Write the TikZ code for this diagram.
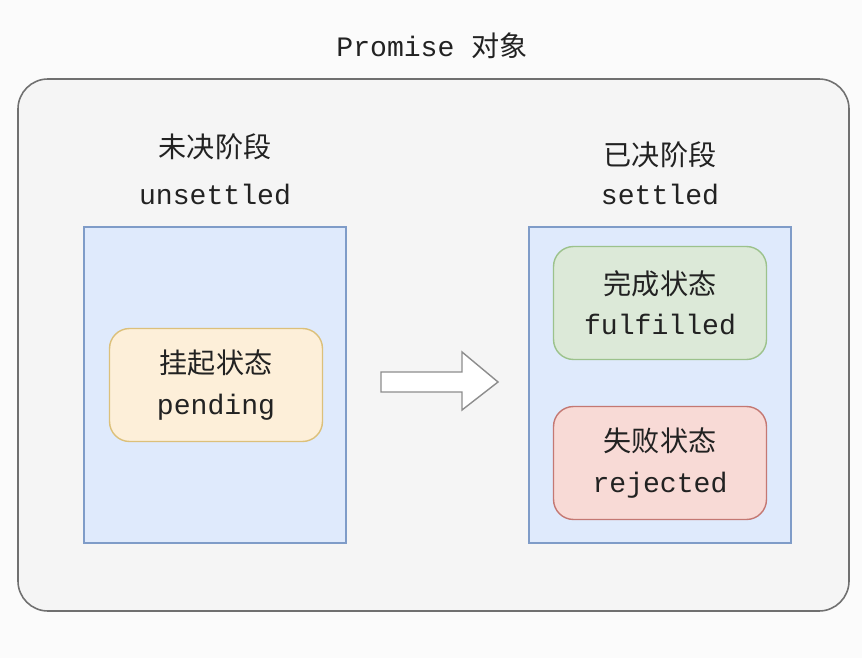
\documentclass[tikz,border=0pt]{standalone}
\usepackage{fontspec}
\setmainfont{Liberation Mono}
\newfontfamily\cjk{Noto Sans CJK SC}
\definecolor{pagebg}{HTML}{FBFBFB}
\definecolor{outerfill}{HTML}{F5F5F5}
\definecolor{outerline}{HTML}{707070}
\definecolor{bluefill}{HTML}{DFEAFC}
\definecolor{blueline}{HTML}{7F9CC8}
\definecolor{orangefill}{HTML}{FDEFD9}
\definecolor{orangeline}{HTML}{DCC07A}
\definecolor{greenfill}{HTML}{DCE9D8}
\definecolor{greenline}{HTML}{9CC28C}
\definecolor{redfill}{HTML}{F8DAD6}
\definecolor{redline}{HTML}{C47873}
\definecolor{ink}{HTML}{222222}
\begin{document}
\begin{tikzpicture}[x=0.02cm,y=-0.02cm,
  label/.style={text=ink,font=\fontsize{16}{19}\selectfont,inner sep=0pt},
  stage/.style={draw=blueline,fill=bluefill,line width=0.8pt,minimum width=5.24cm,minimum height=6.32cm,inner sep=0pt},
  state/.style={rounded corners=0.4cm,line width=0.8pt,minimum width=4.26cm,minimum height=2.26cm,align=center,text=ink,font=\fontsize{16}{23}\selectfont},
  arrowbox/.style={draw=outerline!80,fill=white,line width=0.8pt}]
\useasboundingbox[fill=pagebg] (0,0) rectangle (862,658);
\draw[fill=outerfill,draw=outerline,line width=0.9pt,rounded corners=0.6cm] (18,79) rectangle (849,611);
\node[label] (title) at (432,46) {Promise {\cjk 对象}};
\node[label] (unsetCN) at (215,147) {\cjk 未决阶段};
\node[label] (unsetEN) at (215,194) {unsettled};
\node[label] (setCN) at (660,155) {\cjk 已决阶段};
\node[label] (setEN) at (660,194) {settled};
\node[stage] (unsettled) at (215,385) {};
\node[stage] (settled) at (660,385) {};
\node[state,draw=orangeline,fill=orangefill] (pending) at (216,385) {{\cjk 挂起状态}\\pending};
\node[state,draw=greenline,fill=greenfill] (fulfilled) at (660,303) {{\cjk 完成状态}\\fulfilled};
\node[state,draw=redline,fill=redfill] (rejected) at (660,463) {{\cjk 失败状态}\\rejected};
\draw[arrowbox] (381,372) -- (462,372) -- (462,352) -- (498,382) -- (462,410) -- (462,392) -- (381,392) -- cycle;
\end{tikzpicture}
\end{document}
